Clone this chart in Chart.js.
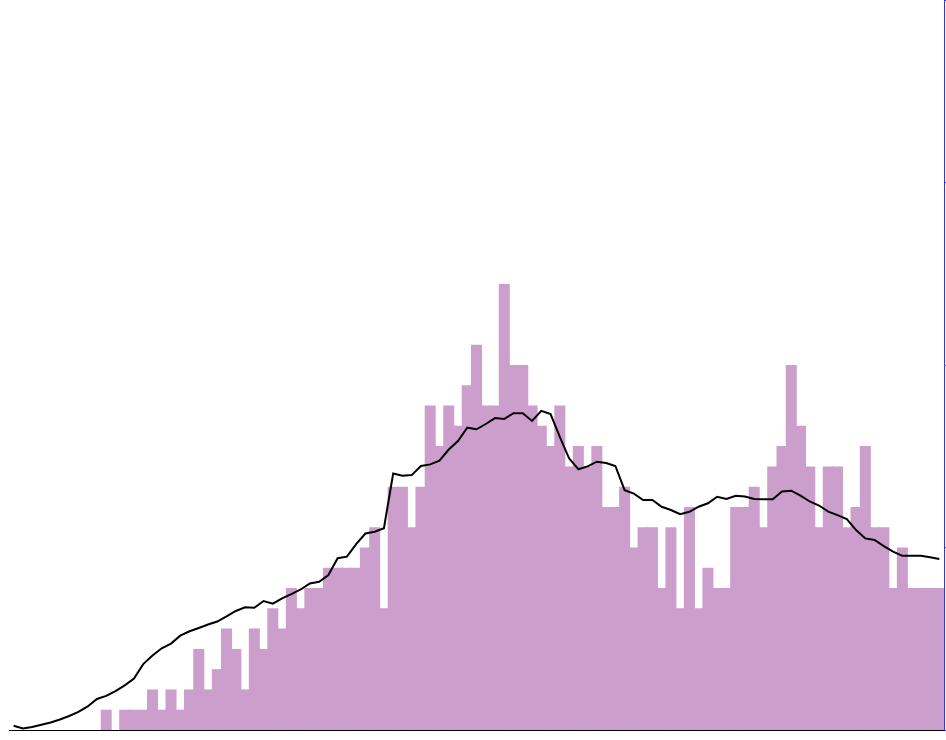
<!DOCTYPE html>
<html>
<head>
<meta charset="utf-8">
<script src="https://cdn.jsdelivr.net/npm/chart.js@4/dist/chart.umd.min.js"></script>
<style>
  html, body { margin: 0; padding: 0; background: #fff; }
  #wrap { width: 946px; height: 740px; position: relative; }
</style>
</head>
<body>
<div id="wrap"><canvas id="chartCanvas"></canvas></div>
<script>
// valores diarios (barras) y media movil (linea)
var dias = [];
for (var d = 1; d <= 101; d++) dias.push(String(d));

var casos = [
  0, 0, 0, 0, 0, 0, 0, 0, 0, 0,
  1, 0, 1, 1, 1, 2, 1, 2, 1, 2,
  4, 2, 3, 5, 4, 2, 5, 4, 6, 5,
  7, 6, 7, 7, 8, 8, 8, 8, 9, 10,
  6, 12, 12, 10, 12, 16, 14, 16, 15, 17,
  19, 16, 16, 22, 18, 18, 16, 15, 14, 16,
  13, 14, 13, 14, 11, 11, 12, 9, 10, 10,
  7, 10, 6, 11, 6, 8, 7, 7, 11, 11,
  12, 10, 13, 14, 18, 15, 13, 10, 13, 13,
  10, 11, 14, 10, 10, 7, 9, 7, 7, 7,
  7
];

var media = [
  0.21, 0.08, 0.15, 0.26, 0.37, 0.52, 0.69, 0.89, 1.16, 1.53,
  1.68, 1.92, 2.20, 2.54, 3.25, 3.67, 4.03, 4.26, 4.65, 4.87,
  5.03, 5.20, 5.35, 5.60, 5.87, 6.05, 6.03, 6.36, 6.23, 6.49,
  6.70, 6.93, 7.23, 7.31, 7.64, 8.47, 8.55, 9.17, 9.69, 9.78,
  9.95, 12.65, 12.54, 12.57, 13.02, 13.10, 13.28, 13.83, 14.25, 14.91,
  14.83, 15.09, 15.38, 15.34, 15.62, 15.62, 15.24, 15.74, 15.58, 14.45,
  13.40, 12.86, 13.00, 13.23, 13.17, 13.02, 11.83, 11.66, 11.34, 11.34,
  11.01, 10.85, 10.64, 10.76, 11.01, 11.18, 11.50, 11.39, 11.55, 11.51,
  11.39, 11.38, 11.38, 11.76, 11.80, 11.56, 11.27, 11.07, 10.77, 10.60,
  10.40, 9.86, 9.45, 9.37, 9.07, 8.80, 8.59, 8.59, 8.59, 8.52,
  8.43
];

var yMax = 36;
var yPaso = 9;

var ctx = document.getElementById("chartCanvas").getContext("2d");

var chartConfig = {
  type: "bar",
  data: {
    labels: dias,
    datasets: [
      {
        type: "line",
        data: media,
        yAxisID: "y1",
        borderColor: "#000",
        borderWidth: 2,
        pointRadius: 0,
        tension: 0,
        fill: false
      },
      {
        data: casos,
        yAxisID: "y",
        backgroundColor: "#cc9ecc",
        borderWidth: 0,
        barPercentage: 1.19,
        categoryPercentage: 1
      }
    ]
  },
  options: {
    responsive: true,
    maintainAspectRatio: false,
    animation: false,
    layout: { padding: { left: 9, right: 0, top: 0, bottom: 10 } },
    plugins: { legend: { display: false }, tooltip: { enabled: false } },
    scales: {
      x: {
        grid: { display: false, drawTicks: false, tickLength: 0 },
        ticks: { display: false, padding: 0 },
        border: { display: true, color: "#000", width: 1 }
      },
      y: {
        display: false,
        min: 0,
        max: yMax
      },
      y1: {
        position: "right",
        min: 0,
        max: yMax,
        ticks: { display: false, stepSize: yPaso },
        grid: { drawOnChartArea: false, tickLength: 2, color: "#3333dd" },
        border: { display: true, color: "#3333dd", width: 1 }
      }
    }
  }
};

var myChart = new Chart(ctx, chartConfig);
</script>
</body>
</html>
